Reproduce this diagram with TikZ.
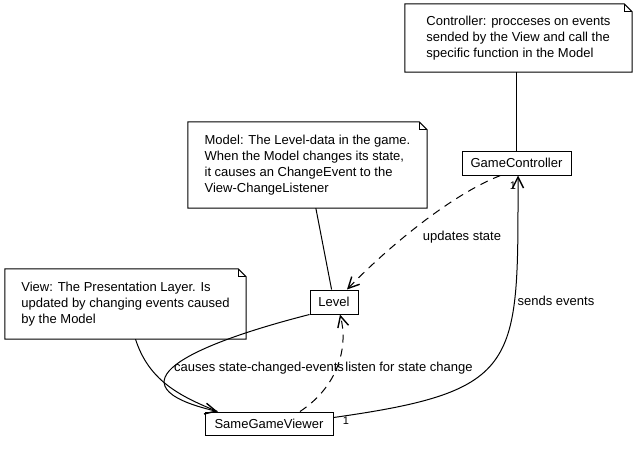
\documentclass[tikz,border=0pt]{standalone}
\usepackage{fontspec}
\setmainfont{Liberation Sans}
\usetikzlibrary{arrows.meta,positioning,calc}
\newcommand\drawnote[1]{%
  \draw[line width=1pt] (#1.south west) -- (#1.north west) -- ([xshift=-8pt]#1.north east)
    -- ([yshift=-8pt]#1.north east) -- (#1.south east) -- cycle;
  \draw[line width=0.7pt] ([xshift=-8pt]#1.north east) -- ([xshift=-8pt,yshift=-8pt]#1.north east)
    -- ([yshift=-8pt]#1.north east);}

\begin{document}
\begin{tikzpicture}[
    x=1pt,y=-1pt,
    font=\fontsize{13}{16}\selectfont,
    classbox/.style={draw,line width=1pt,minimum height=24pt,inner xsep=4pt,inner ysep=0pt},
    notebox/.style={align=left,inner xsep=4pt,inner ysep=0pt},
    assoc/.style={line width=1pt},
    arrow/.style={-{Straight Barb[length=11pt,width=11pt,line width=1.4pt]},line width=1pt},
    depend/.style={arrow,dash pattern=on 8pt off 6pt},
    lbl/.style={inner sep=0pt},
    mult/.style={inner sep=0pt,font=\fontsize{11}{12}\selectfont}
  ]
    \useasboundingbox (0,0) rectangle (635,453);
    % classes
    \node[classbox,minimum width=109pt] (gamectrl) at (516.5,163) {GameController};
    \node[classbox,minimum width=48pt] (level) at (334,302) {Level};
    \node[classbox,minimum width=128pt,minimum height=23pt] (viewer) at (269,423.5)
      {SameGameViewer};
    % notes
    \node[notebox,minimum width=227pt,minimum height=68pt] (ctrlnote) at (518.5,38)
      {Controller: procceses on events\\sended by the View and call the\\specific function in the Model};
    \node[notebox,minimum width=239pt,minimum height=86pt] (modelnote) at (307.5,165)
      {Model: The Level-data in the game.\\When the Model changes its state,\\it causes an ChangeEvent to the\\View-ChangeListener};
    \node[notebox,minimum width=241pt,minimum height=70pt] (viewnote) at (125.5,304)
      {View: The Presentation Layer. Is\\updated by changing events caused\\by the Model};
    \drawnote{ctrlnote}
    \drawnote{modelnote}
    \drawnote{viewnote}
    \coordinate (tip) at ([xshift=13pt]viewer.north west);
    % note anchors
    \draw[assoc] (gamectrl.north) -- (gamectrl.north |- ctrlnote.south);
    \draw[assoc] (modelnote) -- (level);
    \draw[assoc] ([xshift=10pt]viewnote.south) to[out=-72,in=158] (tip);
    % associations
    \draw[arrow] (level.south west) .. controls (190,345) and (105,385) .. (tip);
    \draw[depend] ([xshift=31pt]viewer.north) .. controls (340,385) and (348,345)
      .. ([xshift=6pt]level.south);
    \draw[depend] ([xshift=-16pt]gamectrl.south) .. controls (450,195) and (385,250)
      .. ([xshift=13pt]level.north);
    \draw[arrow] ([yshift=6pt]viewer.east) to[out=8,in=-90,looseness=1.6]
      ([xshift=1.5pt]gamectrl.south);
    % labels
    \node[lbl] (updlabel) at (462,237) {updates state};
    \node[lbl] (causelabel) at (259,368) {causes state-changed-events};
    \node[lbl] (listenlabel) at (409,368) {listen for state change};
    \node[lbl] (sendlabel) at (556,301) {sends events};
    \node[mult] (multviewer) at (346,421) {1};
    \node[mult] (multctrl) at (513,186) {1};
\end{tikzpicture}
\end{document}
